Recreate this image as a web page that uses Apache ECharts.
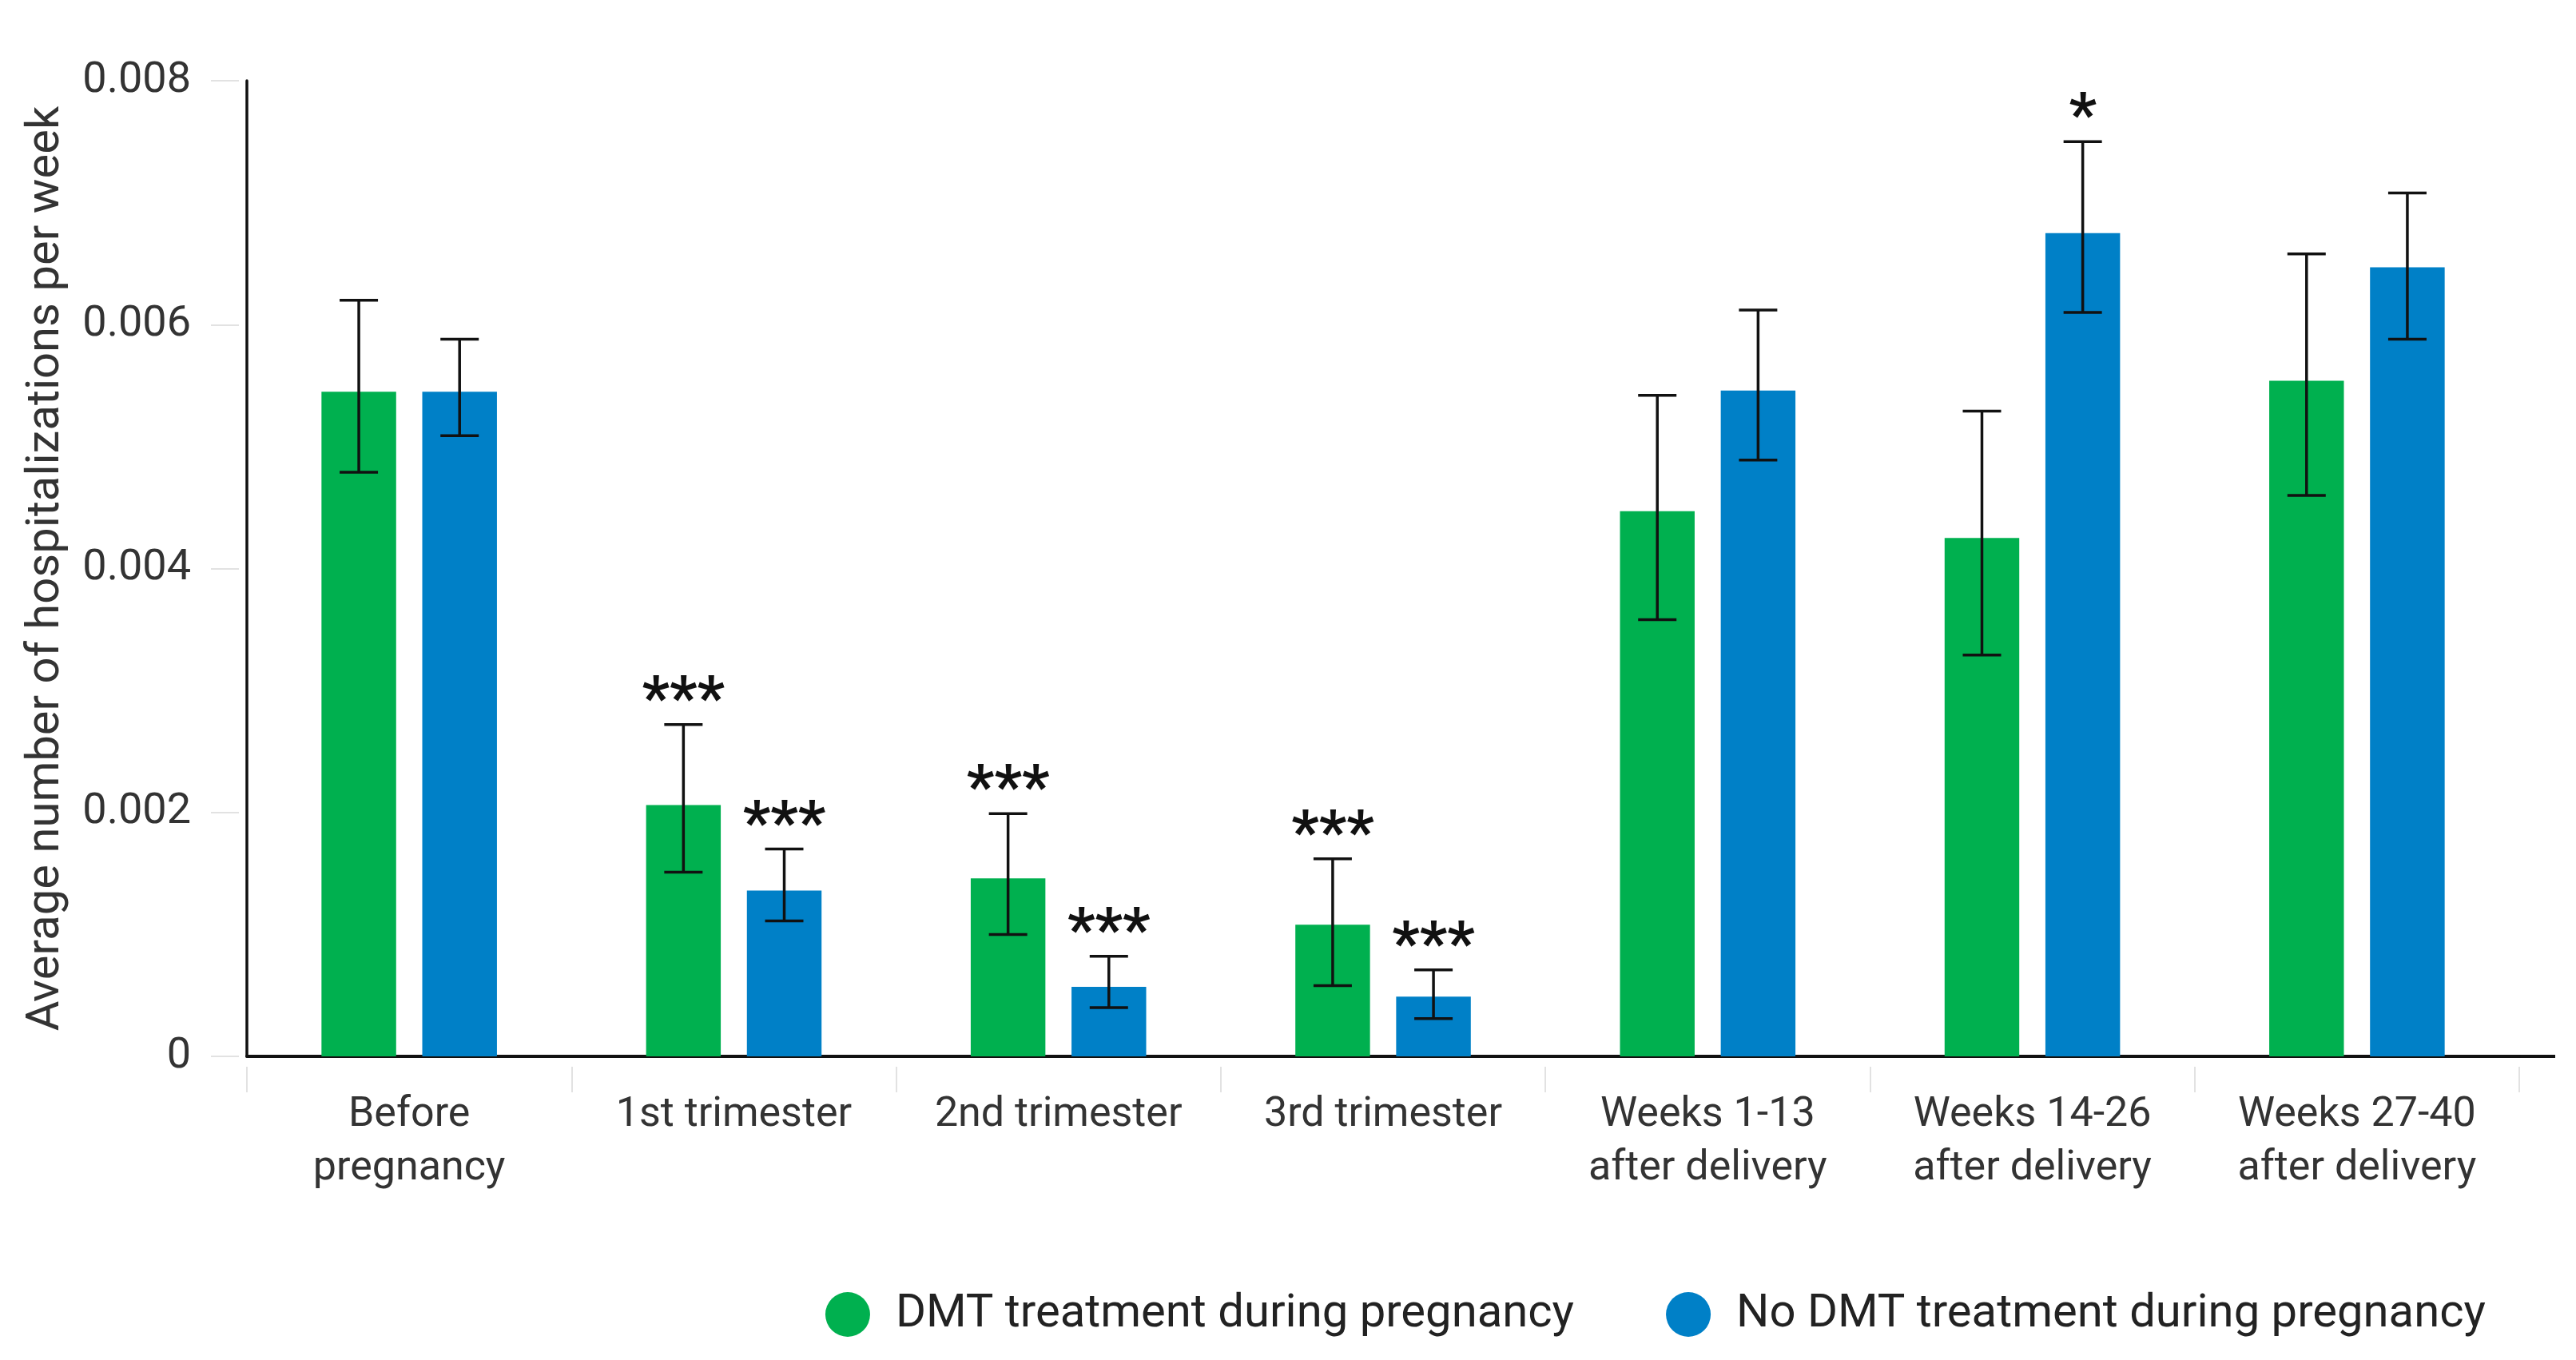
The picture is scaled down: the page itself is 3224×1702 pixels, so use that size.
<!DOCTYPE html>
<html>
<head>
<meta charset="utf-8">
<script src="https://cdn.jsdelivr.net/npm/echarts@6/dist/echarts.min.js"></script>
<style>
html,body{margin:0;padding:0;background:#fff;}
#main{width:3224px;height:1702px;}
</style>
</head>
<body>
<div id="main"></div>
<script>
const categories = ['Before\npregnancy','1st trimester','2nd trimester','3rd trimester','Weeks 1-13\nafter delivery','Weeks 14-26\nafter delivery','Weeks 27-40\nafter delivery'];
const dmtValues   = [0.00545,0.00206,0.00146,0.00108,0.00447,0.00425,0.00554];
const dmtLower    = [0.00479,0.00151,0.00100,0.00058,0.00358,0.00329,0.00460];
const dmtUpper    = [0.00620,0.00272,0.00199,0.00162,0.00542,0.00529,0.00658];
const noDmtValues = [0.00545,0.00136,0.00057,0.00049,0.00546,0.00675,0.00647];
const noDmtLower  = [0.00509,0.00111,0.00040,0.00031,0.00489,0.00610,0.00588];
const noDmtUpper  = [0.00588,0.00170,0.00082,0.00071,0.00612,0.00750,0.00708];
const dmtSig   = ['','***','***','***','','',''];
const noDmtSig = ['','***','***','***','','*',''];
const seriesNames = ['DMT treatment during pregnancy','No DMT treatment during pregnancy'];
const yMin = 0, yMax = 0.008, yInterval = 0.002;

const GREEN = '#00B04F', BLUE = '#0080C7';
const FONT = 'Roboto';
const BAR_W = 0.23, BAR_GAP = 0.35;
const grid = {left:309, right:71, top:101, bottom:380};

const chart = echarts.init(document.getElementById('main'));

function errSeries(lower, upper, sig, side) {
  return {
    type:'custom',
    z: 10,
    silent: true,
    data: categories.map((c,i)=>[i, lower[i], upper[i]]),
    renderItem: function(params, api){
      const i = api.value(0);
      const lo = api.coord([i, api.value(1)]);
      const hi = api.coord([i, api.value(2)]);
      const band = api.size([1,0])[0];
      const bw = band*BAR_W;
      const x = lo[0] + side*(bw + bw*BAR_GAP)/2;
      const cap = 24;
      const st = {stroke:'#111', lineWidth:3.5};
      const children = [
        {type:'line', shape:{x1:x,y1:lo[1],x2:x,y2:hi[1]}, style:st},
        {type:'line', shape:{x1:x-cap,y1:hi[1],x2:x+cap,y2:hi[1]}, style:st},
        {type:'line', shape:{x1:x-cap,y1:lo[1],x2:x+cap,y2:lo[1]}, style:st}
      ];
      const s = sig[params.dataIndex];
      if (s) {
        children.push({type:'text', style:{text:s, x:x, y:hi[1]-27, align:'center', verticalAlign:'middle',
          font:'bold 76px ' + FONT, fill:'#111'}});
      }
      return {type:'group', children:children};
    }
  };
}

chart.setOption({
  backgroundColor:'#fff',
  animation:false,
  textStyle:{fontFamily:FONT},
  grid:grid,
  legend:{
    data:seriesNames,
    right:108, top:1611,
    icon:'circle', itemWidth:56, itemHeight:56, itemGap:115,
    textStyle:{fontSize:58, color:'#222', fontFamily:FONT, padding:[0,0,0,27]}
  },
  xAxis:{
    type:'category', data:categories,
    axisLine:{show:true, lineStyle:{color:'#111', width:4}},
    axisTick:{show:true, length:45, lineStyle:{color:'#e2e2e2', width:2, type:[32,13], dashOffset:32}},
    axisLabel:{fontSize:52, lineHeight:67, color:'#333', margin:40, fontFamily:FONT}
  },
  yAxis:{
    type:'value', min:yMin, max:yMax, interval:yInterval,
    name:'Average number of hospitalizations per week',
    nameLocation:'middle', nameGap:222,
    nameTextStyle:{fontSize:58, color:'#333', fontFamily:FONT},
    axisLine:{show:true, lineStyle:{color:'#111', width:3.5}},
    axisTick:{show:true, length:45, lineStyle:{color:'#e2e2e2', width:2, type:[35,10], dashOffset:35}},
    splitLine:{show:false},
    axisLabel:{fontSize:54, color:'#333', margin:70, fontFamily:FONT, padding:[20,0,0,0],
      formatter:function(v){return v===0?'0':v.toFixed(3);}}
  },
  graphic:[{type:'line', shape:{x1:3224-grid.right, y1:1702-grid.bottom, x2:3198, y2:1702-grid.bottom},
    style:{stroke:'#111', lineWidth:4}}],
  series:[
    {name:seriesNames[0], type:'bar', data:dmtValues, barWidth:(BAR_W*100)+'%', barGap:(BAR_GAP*100)+'%', itemStyle:{color:GREEN}},
    {name:seriesNames[1], type:'bar', data:noDmtValues, barWidth:(BAR_W*100)+'%', barGap:(BAR_GAP*100)+'%', itemStyle:{color:BLUE}},
    errSeries(dmtLower, dmtUpper, dmtSig, -1),
    errSeries(noDmtLower, noDmtUpper, noDmtSig, 1)
  ]
});
</script>
</body>
</html>
